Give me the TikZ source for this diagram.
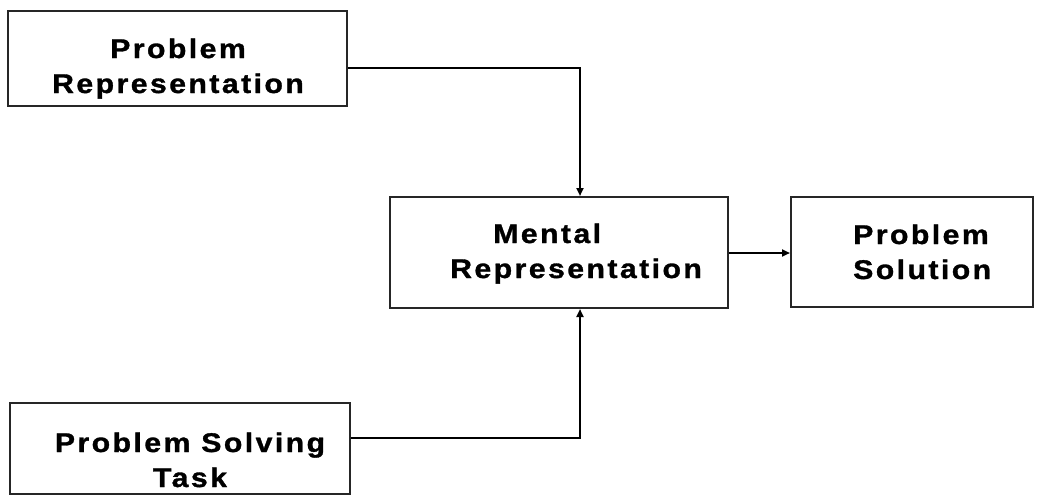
\documentclass[tikz,border=0pt]{standalone}
\usepackage{fontspec}
\setmainfont{Liberation Sans}[LetterSpace=9, FakeStretch=1.12, BoldFeatures={FakeBold=1.2}]
\usetikzlibrary{arrows.meta}
\begin{document}
\begin{tikzpicture}[x=1pt,y=-1pt,
  box/.style={draw=black!85, line width=2pt, inner sep=0pt},
  txt/.style={inner sep=0pt, font=\fontsize{27}{35}\selectfont\bfseries},
  link/.style={line width=2.8pt, black},
  tip/.style={-{Triangle[length=8pt,width=7pt]}}]
  \useasboundingbox (0,0) rectangle (1037,495);
  % boxes
  \node[box, minimum width=339pt, minimum height=95pt] (prep) at (177.5,58.5) {};
  \node[box, minimum width=338pt, minimum height=111pt] (mrep) at (559,252.5) {};
  \node[box, minimum width=242pt, minimum height=110pt] (sol) at (912,252) {};
  \node[box, minimum width=340pt, minimum height=91pt] (task) at (180,448) {};
  % labels, placed by the baseline of their last line
  \node[txt, align=center, anchor=base] (prept) at (178,93) {Problem\\Representation};
  \node[txt, align=left, anchor=base west] (mrept) at (450,278) {\hspace*{43pt}Mental\\Representation};
  \node[txt, align=left, anchor=base west] (solt) at (853,279) {Problem\\Solution};
  \node[txt, align=center, anchor=base] (taskt) at (190,487) {Problem Solving\\Task};
  % connectors
  \draw[link, tip] (prep.east |- 0,68) -| (mrep.north -| 580,0);
  \draw[link, tip] (task.east |- 0,438) -| (mrep.south -| 580,0);
  \draw[link, tip] (mrep.east |- 0,253) -- (sol.west |- 0,253);
\end{tikzpicture}
\end{document}
